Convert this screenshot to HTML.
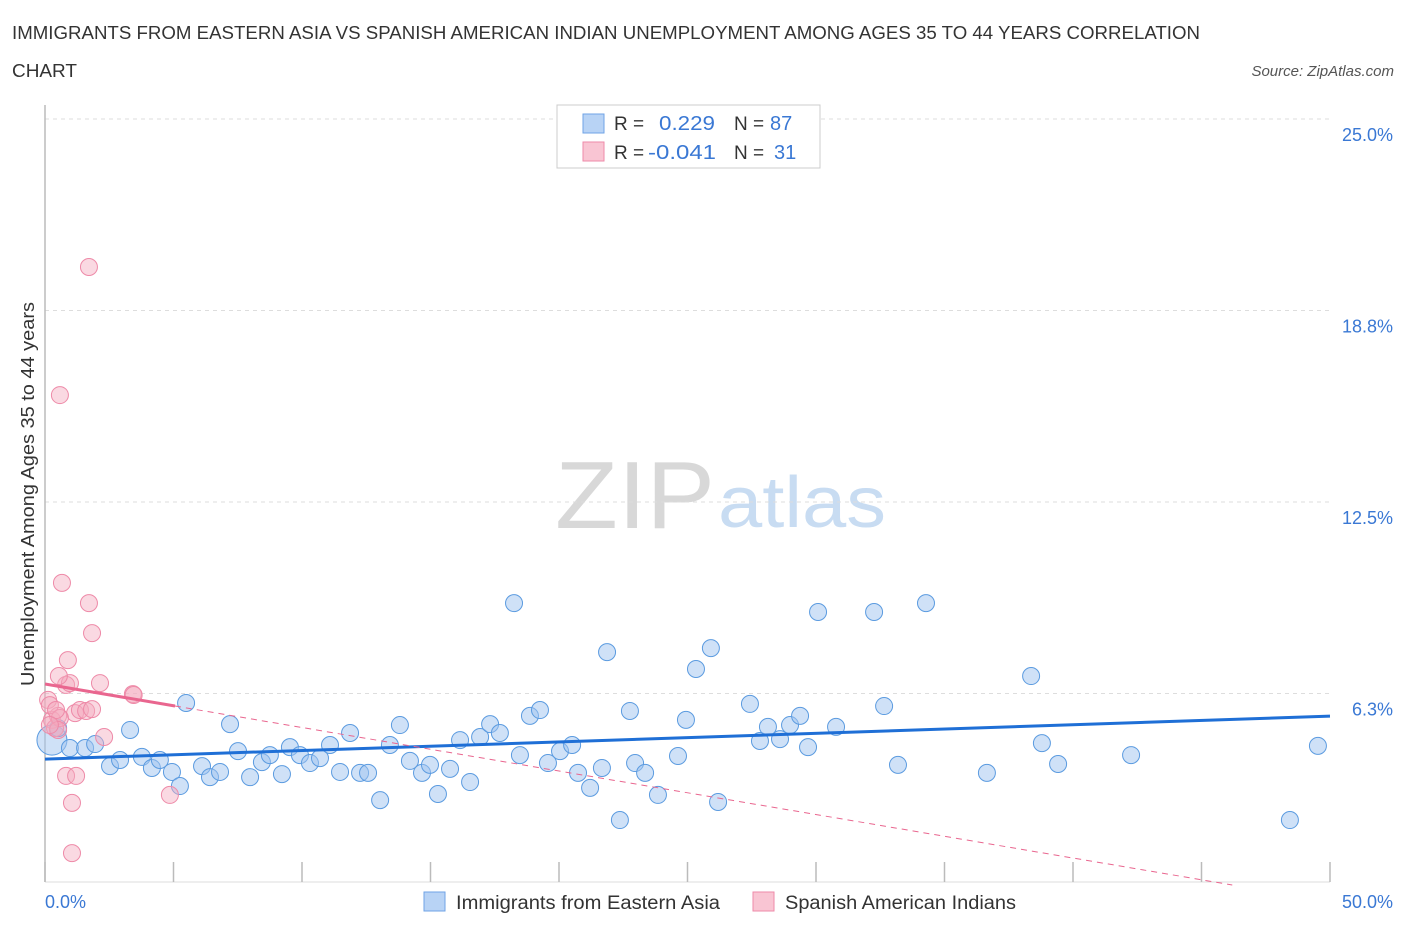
<!DOCTYPE html>
<html><head><meta charset="utf-8"><style>
body{margin:0;background:#fff;font-family:"Liberation Sans",sans-serif;}
svg text{font-family:"Liberation Sans",sans-serif;}
</style></head><body>
<svg width="1406" height="930" viewBox="0 0 1406 930">
<text x="12" y="39" font-size="18" fill="#333" textLength="1188" lengthAdjust="spacingAndGlyphs">IMMIGRANTS FROM EASTERN ASIA VS SPANISH AMERICAN INDIAN UNEMPLOYMENT AMONG AGES 35 TO 44 YEARS CORRELATION</text>
<text x="12" y="77" font-size="18" fill="#333" textLength="65" lengthAdjust="spacingAndGlyphs">CHART</text>
<text x="1394" y="76" font-size="15" fill="#555" font-style="italic" text-anchor="end">Source: ZipAtlas.com</text>
<text x="555" y="528" font-size="96" fill="#d8d8d8" font-family="Liberation Serif" textLength="160" lengthAdjust="spacingAndGlyphs">ZIP</text>
<text x="718" y="527" font-size="72" fill="#c8dcf2" textLength="168" lengthAdjust="spacingAndGlyphs">atlas</text>
<g id="grid"></g>
<line x1="45" y1="105" x2="45" y2="882" stroke="#bbb" stroke-width="1.5"/>
<line x1="45" y1="882" x2="1330" y2="882" stroke="#ddd" stroke-width="1"/>
<g id="ticks"></g>
<g id="pts"></g>
<g id="trends"></g>
<text transform="translate(34,494) rotate(-90)" font-size="18" fill="#333" text-anchor="middle" textLength="384" lengthAdjust="spacingAndGlyphs">Unemployment Among Ages 35 to 44 years</text>
<text x="45" y="908" font-size="18" fill="#3a78d4">0.0%</text>
<text x="1393" y="908" font-size="18" fill="#3a78d4" text-anchor="end">50.0%</text>
<g>
<rect x="557" y="105" width="263" height="63" fill="#fff" stroke="#ccc"/>
<rect x="583" y="114" width="21" height="19" fill="#b8d3f5" stroke="#6fa3e6"/>
<rect x="583" y="142" width="21" height="19" fill="#f9c5d3" stroke="#ee8aa8"/>
<text x="614" y="130" font-size="19" fill="#333">R =</text>
<text x="659" y="130" font-size="20" fill="#3a78d4" textLength="56" lengthAdjust="spacingAndGlyphs">0.229</text>
<text x="734" y="130" font-size="19" fill="#333">N =</text>
<text x="770" y="130" font-size="20" fill="#3a78d4">87</text>
<text x="614" y="159" font-size="19" fill="#333">R =</text>
<text x="648" y="159" font-size="20" fill="#3a78d4" textLength="68" lengthAdjust="spacingAndGlyphs">-0.041</text>
<text x="734" y="159" font-size="19" fill="#333">N =</text>
<text x="774" y="159" font-size="20" fill="#3a78d4">31</text>
</g>
<g>
<rect x="424" y="892" width="21" height="19" fill="#b8d3f5" stroke="#6fa3e6"/>
<text x="456" y="909" font-size="19" fill="#333" textLength="264" lengthAdjust="spacingAndGlyphs">Immigrants from Eastern Asia</text>
<rect x="753" y="892" width="21" height="19" fill="#f9c5d3" stroke="#ee8aa8"/>
<text x="785" y="909" font-size="19" fill="#333" textLength="231" lengthAdjust="spacingAndGlyphs">Spanish American Indians</text>
</g>
</svg>
<script>
const yTicks=[25.0,18.75,12.5,6.25];
const yTickLabels=["25.0%","18.8%","12.5%","6.3%"];
const xTicks=[0,5,10,15,20,25,30,35,40,45,50];
const blueX=[0.27,0.51,0.97,1.56,1.95,2.53,2.92,3.31,3.77,4.16,4.47,4.94,5.25,5.49,6.11,6.42,6.81,7.20,7.51,7.98,8.44,8.75,9.22,9.53,9.92,10.31,10.70,11.09,11.48,11.87,12.26,12.57,13.04,13.42,13.81,14.20,14.67,14.98,15.29,15.76,16.15,16.54,16.93,17.32,17.70,18.25,18.48,18.87,19.26,19.57,20.04,20.51,20.74,21.21,21.67,21.87,22.37,22.76,22.96,23.35,23.85,24.63,24.94,25.33,25.91,26.19,27.43,27.82,28.13,28.60,28.99,29.38,29.69,30.08,30.78,32.26,32.65,33.19,34.28,36.65,38.37,38.79,39.42,42.26,48.44,49.53];
const blueY=[4.73,5.12,4.47,4.47,4.60,3.88,4.08,5.06,4.18,3.82,4.08,3.69,3.23,5.94,3.88,3.52,3.69,5.25,4.37,3.52,4.01,4.24,3.62,4.50,4.24,3.98,4.14,4.57,3.69,4.96,3.66,3.66,2.77,4.57,5.22,4.05,3.66,3.92,2.97,3.79,4.73,3.36,4.83,5.25,4.96,9.20,4.24,5.52,5.71,3.98,4.37,4.57,3.66,3.17,3.82,7.60,2.12,5.68,3.98,3.66,2.94,4.21,5.39,7.05,7.73,2.71,5.91,4.70,5.16,4.76,5.22,5.52,4.50,8.91,5.16,8.91,5.84,3.92,9.20,3.66,6.82,4.63,3.95,4.24,2.12,4.54];
const pinkX=[0.12,0.27,0.39,0.51,0.19,0.66,0.58,0.89,0.82,0.97,0.54,1.71,1.83,1.71,1.17,1.36,1.60,1.83,2.14,2.30,0.82,1.21,1.05,1.05,0.58,3.42,4.86,0.43,0.51,0.19,3.45];
const pinkY=[6.04,5.39,5.12,5.52,5.87,9.86,15.99,7.34,6.53,6.59,6.82,9.20,8.22,20.17,5.61,5.71,5.68,5.74,6.59,4.83,3.56,3.56,2.68,1.04,5.45,6.23,2.94,5.71,5.06,5.22,6.20];
const blueTrend=[4.11,5.51];
const pinkTrend=[6.56,-0.142];
const NS="http://www.w3.org/2000/svg";
const X=v=>45+v*25.7;
const Y=v=>885-v*30.64;
function mk(tag,attrs,parent){const e=document.createElementNS(NS,tag);for(const k in attrs)e.setAttribute(k,attrs[k]);document.getElementById(parent).appendChild(e);return e;}
yTicks.forEach((t,i)=>{
 const l=mk('line',{x1:45,x2:1330,y1:Y(t),y2:Y(t),stroke:'#ddd','stroke-dasharray':'4,4'},'grid');
 
 
 const tx=mk('text',{x:1393,y:Y(t)+22,'font-size':18,fill:'#3a78d4','text-anchor':'end'},'grid');
 tx.textContent=yTickLabels[i];
 
 
});
xTicks.forEach(t=>{
 const l=mk('line',{x1:X(t),x2:X(t),y1:862,y2:882,stroke:'#bbb','stroke-width':1.5},'ticks');
 
 
});
blueX.forEach((x,i)=>{
 const c=mk('circle',{cx:X(x),cy:Y(blueY[i]),r:i==0?15:8.5,fill:'rgba(160,196,240,0.5)',stroke:'#5b9be0','stroke-width':1},'pts');
 
 
});
pinkX.forEach((x,i)=>{
 const c=mk('circle',{cx:X(x),cy:Y(pinkY[i]),r:8.5,fill:'rgba(244,170,190,0.45)',stroke:'#ee8aa8','stroke-width':1},'pts');
 
 
});
const bl=mk('line',{x1:X(0),y1:Y(blueTrend[0]),x2:X(50),y2:Y(blueTrend[1]),stroke:'#1f6fd6','stroke-width':3},'trends');


const pe=(pinkTrend[0])/(-pinkTrend[1]);
const pd=mk('line',{x1:X(5.06),y1:Y(pinkTrend[0]+pinkTrend[1]*5.06),x2:X(pe),y2:Y(0),stroke:'#e9668f','stroke-width':1,'stroke-dasharray':'6,5'},'trends');


const ps=mk('line',{x1:X(0),y1:Y(pinkTrend[0]),x2:X(5.06),y2:Y(pinkTrend[0]+pinkTrend[1]*5.06),stroke:'#e9668f','stroke-width':3},'trends');


</script>
</body></html>
